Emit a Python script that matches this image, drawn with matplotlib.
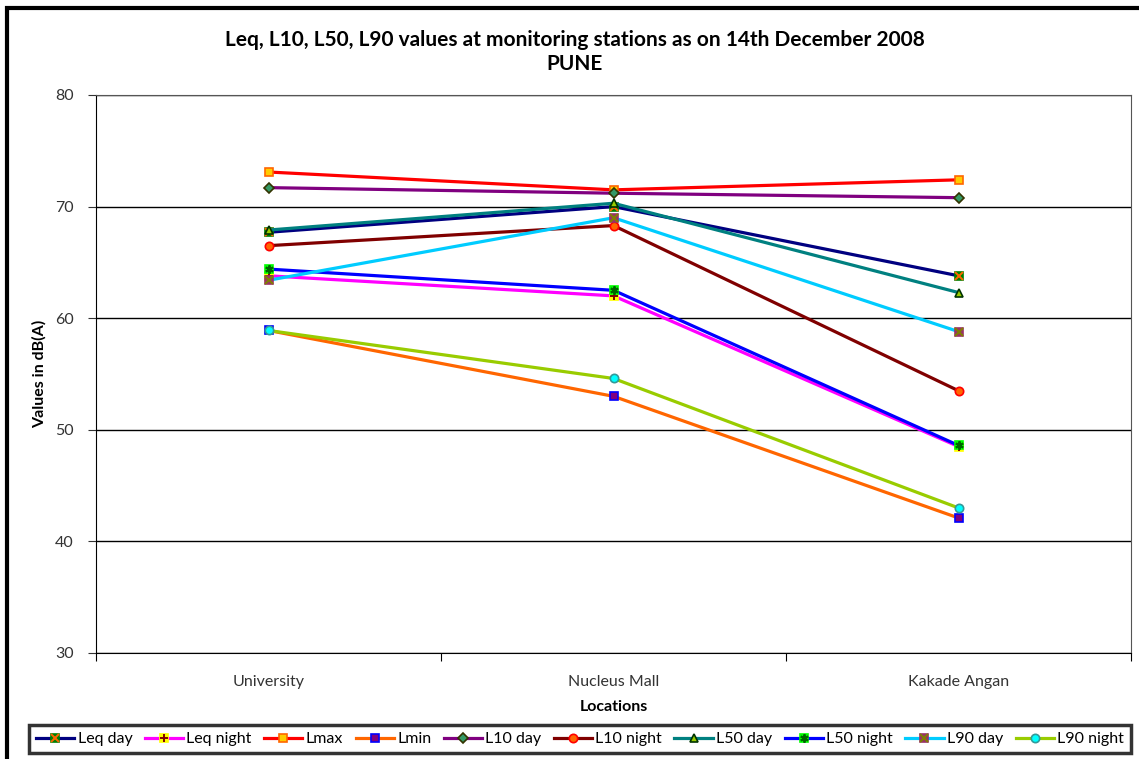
import numpy as np
import matplotlib.pyplot as plt
from matplotlib.patches import Rectangle

plt.rcParams['font.family'] = ['Lato', 'DejaVu Sans']

locations = ['University', 'Nucleus Mall', 'Kakade Angan']

leq_day = [67.7, 70.0, 63.8]
leq_night = [63.8, 62.0, 48.5]
lmax = [73.1, 71.5, 72.4]
lmin = [58.9, 53.0, 42.1]
l10_day = [71.7, 71.2, 70.8]
l10_night = [66.5, 68.3, 53.5]
l50_day = [67.9, 70.3, 62.3]
l50_night = [64.4, 62.5, 48.6]
l90_day = [63.4, 69.0, 58.8]
l90_night = [58.9, 54.6, 43.0]

# (label, values, line colour, marker, face, edge, overlay marker, overlay colour)
series = [
    ('Leq day', leq_day, '#000080', 's', '#008000', '#008000', 'x', '#FF6600'),
    ('Leq night', leq_night, '#FF00FF', 's', '#FFFF00', '#FFFF00', '+', '#800000'),
    ('Lmax', lmax, '#FF0000', 's', '#FFCC00', '#FF6600', None, None),
    ('Lmin', lmin, '#FF6600', 's', '#800080', '#0000FF', None, None),
    ('L10 day', l10_day, '#800080', 'D', '#339966', '#333300', None, None),
    ('L10 night', l10_night, '#800000', 'o', '#FF6600', '#FF0000', None, None),
    ('L50 day', l50_day, '#008080', '^', '#99CC00', '#003300', None, None),
    ('L50 night', l50_night, '#0000FF', 's', '#00FF00', '#00FF00', (6, 2, 0), '#006600'),
    ('L90 day', l90_day, '#00CCFF', 's', '#993366', '#993366', 'x', '#808000'),
    ('L90 night', l90_night, '#99CC00', 'o', '#00FFFF', '#339999', None, None),
]

fig = plt.figure(figsize=(11.39, 7.59), dpi=100)
ax = fig.add_axes([96/1139, 1-653/759, (1131-96)/1139, (653-95)/759])

x = np.arange(len(locations))
handles = []
labels = []
for lab, vals, lc, mk, fc, ec, ov, oc in series:
    ms = 6 if mk != 'D' else 5
    ln, = ax.plot(x, vals, color=lc, lw=2.3, marker=mk, markersize=ms,
                  markerfacecolor=fc, markeredgecolor=ec, markeredgewidth=1.2)
    if ov is not None:
        ovl, = ax.plot(x, vals, ls='none', marker=ov, markersize=6,
                       color=oc, markeredgewidth=1.4)
        handles.append((ln, ovl))
    else:
        handles.append(ln)
    labels.append(lab)

ax.set_xlim(-0.5, 2.5)
ax.set_ylim(30, 80)
ax.set_yticks([30, 40, 50, 60, 70, 80])
ax.yaxis.grid(True, color='black', lw=1)
ax.set_axisbelow(True)
ax.tick_params(axis='y', direction='out', length=6, pad=10, labelsize=11.5, colors='#333333')
ax.set_xticks([-0.5, 0.5, 1.5, 2.5])
ax.set_xticklabels([])
ax.set_xticks(x, minor=True)
ax.set_xticklabels(locations, minor=True)
ax.tick_params(axis='x', which='major', direction='out', length=6)
ax.tick_params(axis='x', which='minor', length=0, pad=16, labelsize=11.5, colors='#333333')
for s in ['top', 'right']:
    ax.spines[s].set_color('#555555')

ax.set_xlabel('Locations', fontsize=11.5, fontweight='bold', labelpad=8)
ax.set_ylabel('Values in dB(A)', fontsize=11.5, fontweight='bold', labelpad=6)

fig.text(575/1139, 1-40/759, 'Leq, L10, L50, L90 values at monitoring stations as on 14th December 2008',
         ha='center', va='center', fontsize=15, fontweight='bold')
fig.text(575/1139, 1-64/759, 'PUNE', ha='center', va='center', fontsize=15, fontweight='bold')

leg = fig.legend(handles, labels, loc='center', bbox_to_anchor=(580/1139, 1-739/759),
                 ncol=10, fontsize=11.5, frameon=True, fancybox=False,
                 handlelength=2.4, handletextpad=0.2, columnspacing=0.78,
                 borderpad=0.45, borderaxespad=0)
leg.get_frame().set_edgecolor('black')
leg.get_frame().set_linewidth(2.5)

fig.patches.append(Rectangle((7/1139, -0.1), 1.2, 1.1 - 8/759, transform=fig.transFigure,
                             fill=False, edgecolor='black', lw=3, zorder=10))

fig.savefig('out.png', dpi=100)
